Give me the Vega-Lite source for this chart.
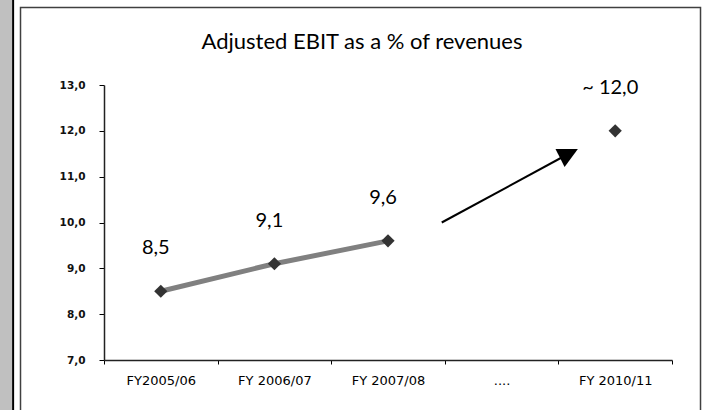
{
  "$schema": "https://vega.github.io/schema/vega-lite/v6.json",
  "width": 568,
  "height": 275,
  "autosize": "none",
  "padding": {"left": 104, "top": 85, "right": 32, "bottom": 50},
  "background": "white",
  "config": {"view": {"stroke": null}},
  "title": {
    "text": "Adjusted EBIT as a % of revenues",
    "font": "Lato",
    "fontSize": 22,
    "fontWeight": "normal",
    "color": "#000000",
    "anchor": "middle",
    "frame": "group",
    "baseline": "alphabetic",
    "offset": -72,
    "dx": -26
  },
  "datasets": {
    "ebit": [
      {"year": "FY2005/06", "value": 8.5, "label": "8,5", "kind": "actual"},
      {"year": "FY 2006/07", "value": 9.1, "label": "9,1", "kind": "actual"},
      {"year": "FY 2007/08", "value": 9.6, "label": "9,6", "kind": "actual"},
      {"year": "FY 2010/11", "value": 12.0, "label": "~ 12,0", "kind": "target"}
    ]
  },
  "layer": [
    {
      "data": {"values": [{}]},
      "layer": [
        {
          "mark": {"type": "rect", "fill": "#c0c0c0", "stroke": null},
          "encoding": {
            "x": {"datum": -0.93, "type": "quantitative", "scale": {"domain": [0, 5]}, "axis": null},
            "x2": {"datum": -0.807},
            "y": {"datum": 14.855, "type": "quantitative", "scale": {"domain": [7, 13]}, "axis": null},
            "y2": {"datum": 5.5}
          }
        },
        {
          "mark": {"type": "rule", "color": "#000000", "strokeWidth": 2},
          "encoding": {
            "x": {"datum": -0.8, "type": "quantitative"},
            "y": {"datum": 14.855, "type": "quantitative"},
            "y2": {"datum": 5.5}
          }
        },
        {
          "mark": {"type": "rect", "fillOpacity": 0, "stroke": "#404040", "strokeWidth": 1.5},
          "encoding": {
            "x": {"datum": -0.735, "type": "quantitative"},
            "x2": {"datum": 5.251},
            "y": {"datum": 14.69, "type": "quantitative"},
            "y2": {"datum": 5.5}
          }
        },
        {
          "mark": {"type": "rule", "color": "#000000", "strokeWidth": 2},
          "encoding": {
            "x": {"datum": 2.973, "type": "quantitative"},
            "x2": {"datum": 4.09},
            "y": {"datum": 10.0, "type": "quantitative"},
            "y2": {"datum": 11.5}
          }
        },
        {
          "mark": {"type": "point", "shape": "M0,-1L1,1L-1,1Z", "size": 400, "angle": 63, "filled": true, "color": "#000000", "opacity": 1},
          "encoding": {
            "x": {"datum": 4.093, "type": "quantitative"},
            "y": {"datum": 11.506, "type": "quantitative"}
          }
        }
      ]
    },
    {
      "data": {"name": "ebit"},
      "encoding": {
        "x": {
          "field": "year",
          "type": "nominal",
          "sort": null,
          "scale": {
            "domain": ["FY2005/06", "FY 2006/07", "FY 2007/08", "....", "FY 2010/11"],
            "paddingInner": 0,
            "paddingOuter": 0
          },
          "axis": {
            "orient": "bottom",
            "title": null,
            "labelAngle": 0,
            "tickBand": "extent",
            "tickSize": 4,
            "tickColor": "#000000",
            "domainColor": "#222222",
            "domainWidth": 1.5,
            "labelFont": "DejaVu Sans",
            "labelFontSize": 13,
            "labelColor": "#000000",
            "labelPadding": 10,
            "grid": false
          }
        },
        "y": {
          "field": "value",
          "type": "quantitative",
          "scale": {"domain": [7, 13], "nice": false, "zero": false},
          "axis": {
            "orient": "left",
            "title": null,
            "values": [7, 8, 9, 10, 11, 12, 13],
            "labelExpr": "replace(format(datum.value, '.1f'), '.', ',')",
            "grid": false,
            "tickSize": 5,
            "tickColor": "#000000",
            "domainColor": "#222222",
            "domainWidth": 1.5,
            "labelFont": "DejaVu Sans",
            "labelFontSize": 10.5,
            "labelFontWeight": "bold",
            "labelColor": "#111111",
            "labelPadding": 14
          }
        }
      },
      "layer": [
        {
          "transform": [{"filter": "datum.kind == 'actual'"}],
          "mark": {"type": "line", "color": "#808080", "strokeWidth": 5}
        },
        {
          "mark": {"type": "point", "shape": "diamond", "size": 175, "filled": true, "color": "#333333", "opacity": 1}
        },
        {
          "mark": {"type": "text", "font": "Lato", "fontSize": 20, "color": "#000000", "baseline": "alphabetic", "align": "center", "dy": -37, "dx": -5},
          "encoding": {"text": {"field": "label"}}
        }
      ]
    }
  ],
  "resolve": {"scale": {"x": "independent", "y": "independent"}}
}
